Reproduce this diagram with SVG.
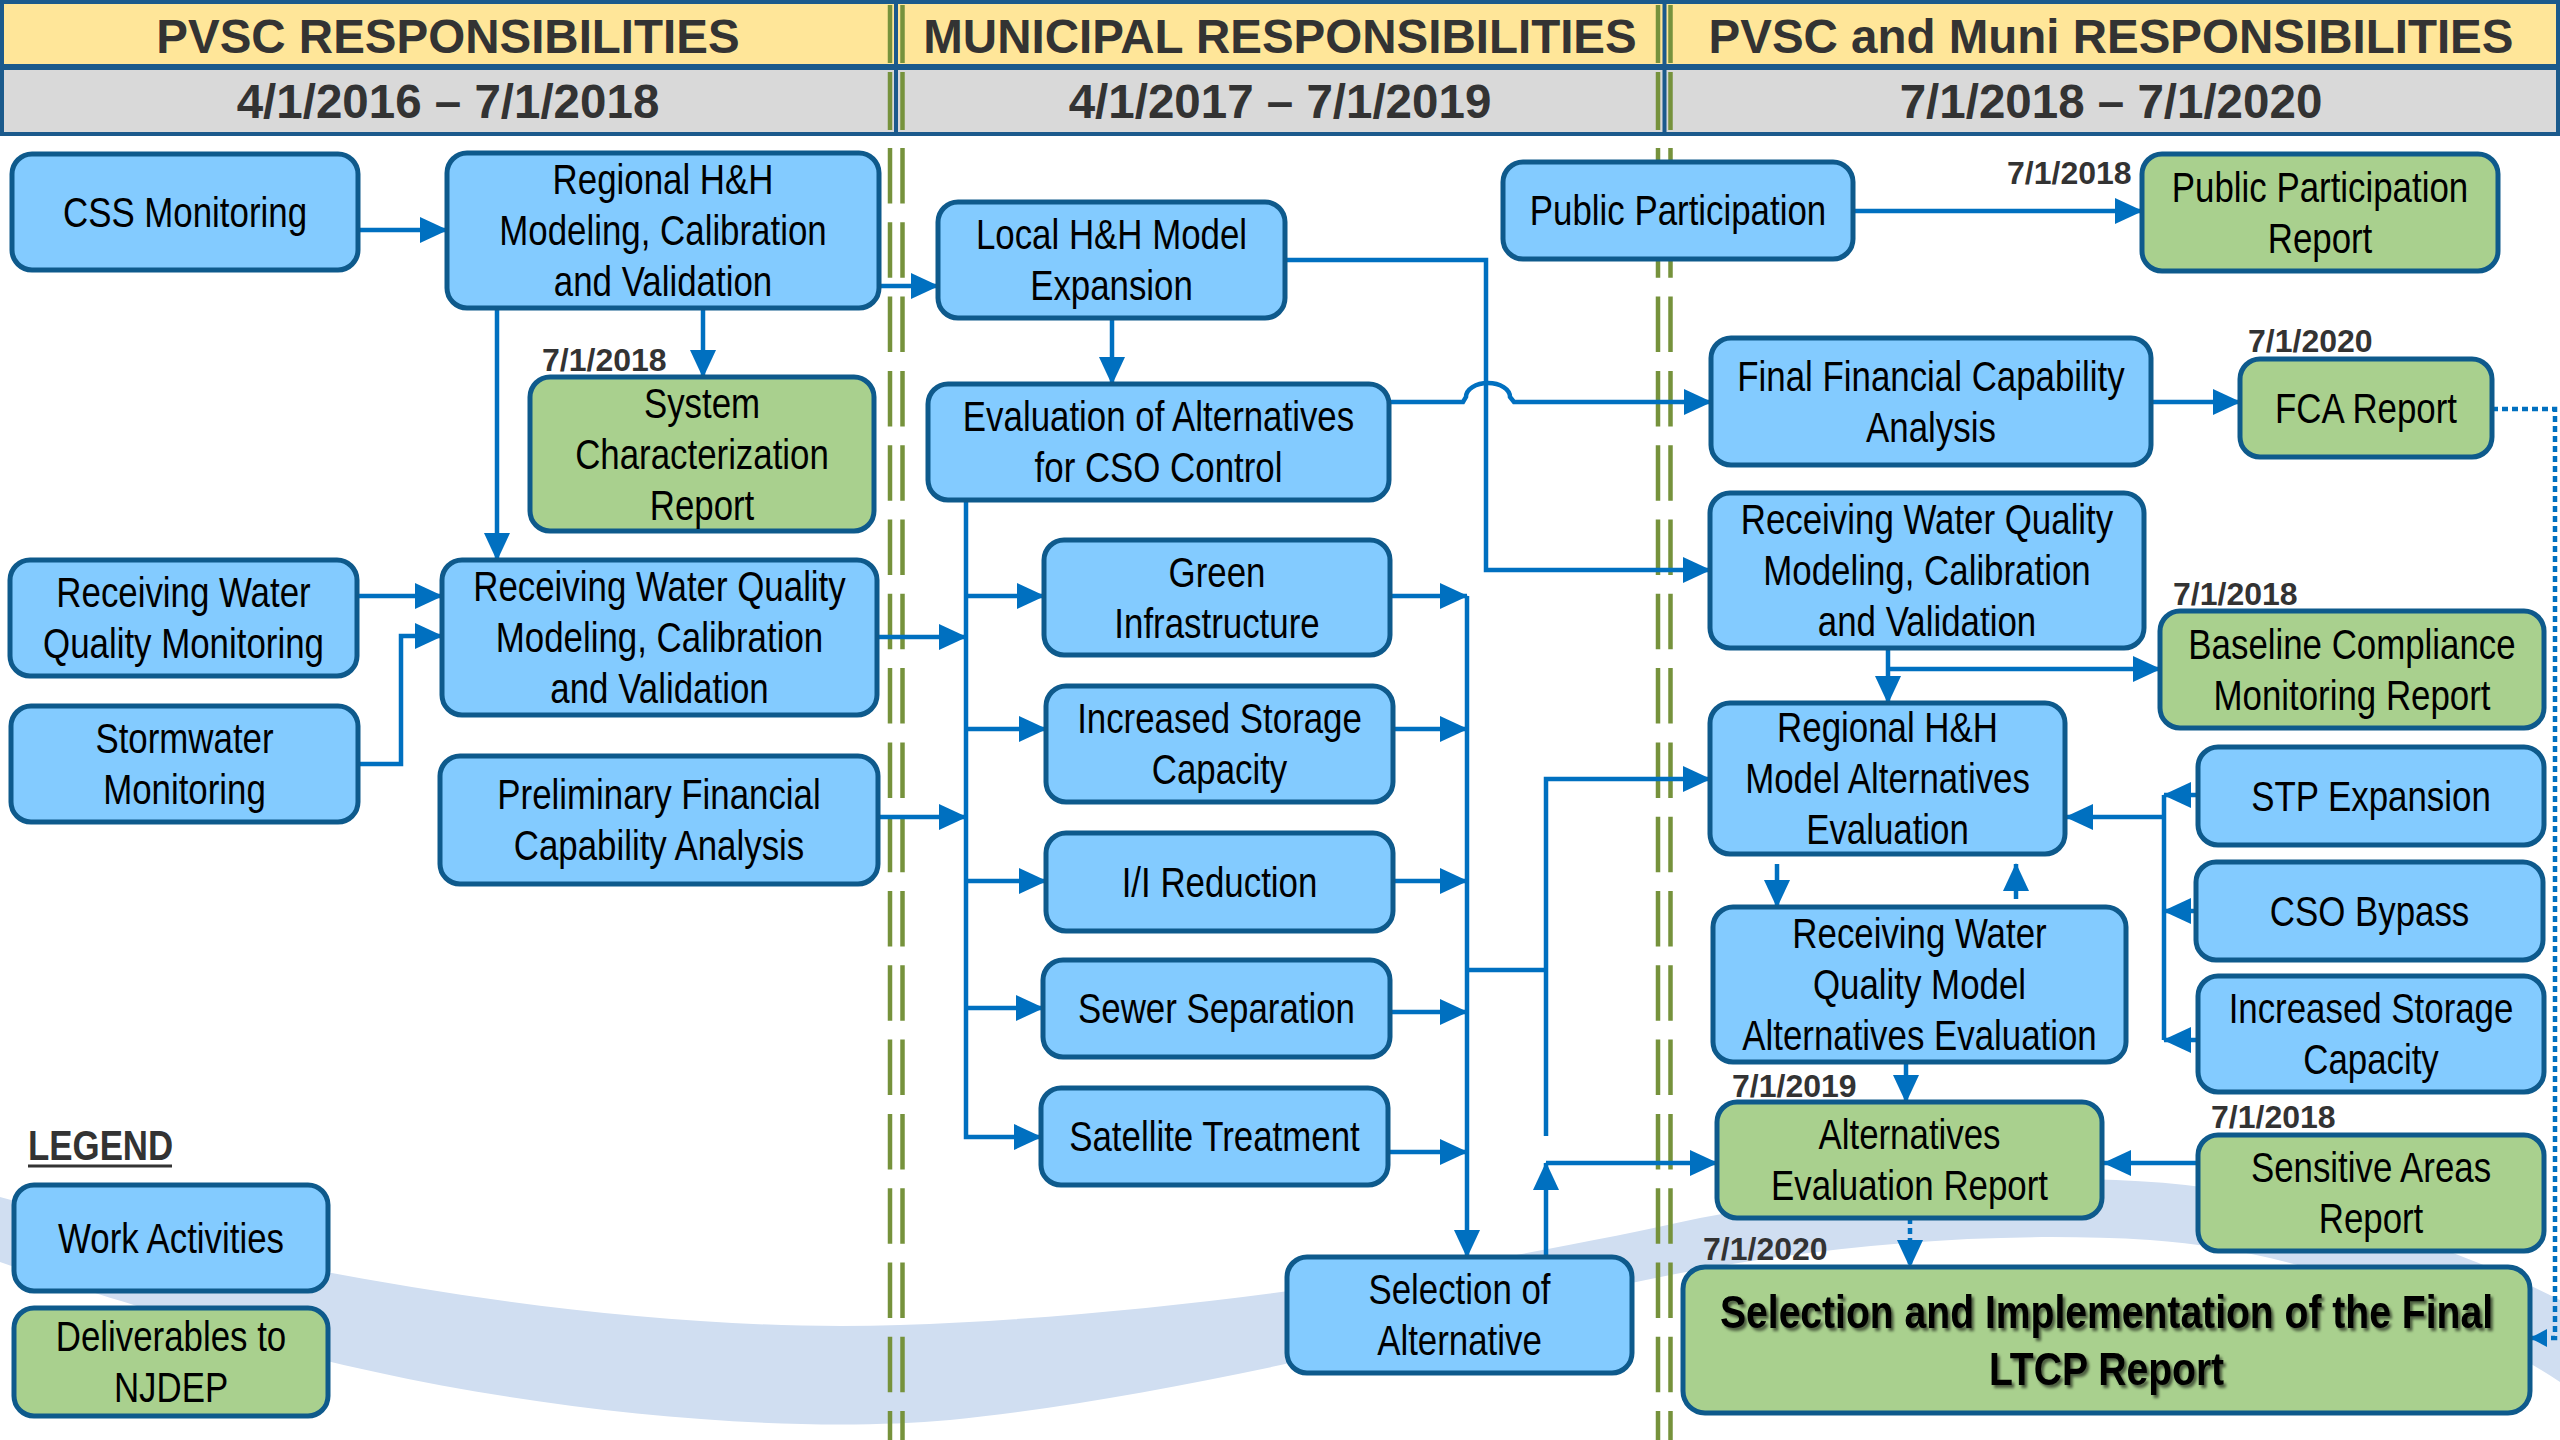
<svg xmlns="http://www.w3.org/2000/svg" width="2560" height="1440" viewBox="0 0 2560 1440">
<style>
.w{fill:#83CBFF;stroke:#0E5A8C;stroke-width:5}
.d{fill:#A9D08E;stroke:#0E5A8C;stroke-width:5}
.t{font-family:"Liberation Sans",Arial,sans-serif;font-size:42px;fill:#000;text-anchor:middle}
.tb{font-family:"Liberation Sans",Arial,sans-serif;font-size:46px;font-weight:bold;fill:#000;text-anchor:middle}
.h{font-family:"Liberation Sans",Arial,sans-serif;font-size:47.5px;font-weight:bold;fill:#333;text-anchor:middle}
.dt{font-family:"Liberation Sans",Arial,sans-serif;font-size:32px;font-weight:bold;fill:#333}
.c{fill:none;stroke:#0070C0;stroke-width:4.5}
.dot{stroke-dasharray:6 4}
.gd{stroke:#76923C;stroke-width:4.5;stroke-dasharray:55.5 18.8}
.gh{stroke:#76923C;stroke-width:4.5}
.hb{stroke:#1B5A8C;stroke-width:4}
</style>
<defs>
<marker id="ah" markerUnits="userSpaceOnUse" markerWidth="28" markerHeight="26" refX="27" refY="13" orient="auto"><path d="M0,0 L28,13 L0,26 Z" fill="#0070C0"/></marker>
<marker id="ahs" markerUnits="userSpaceOnUse" markerWidth="17" markerHeight="18" refX="16" refY="9" orient="auto"><path d="M0,0 L17,9 L0,18 Z" fill="#0070C0"/></marker>
<filter id="sh" x="-5%" y="-20%" width="110%" height="140%"><feDropShadow dx="3" dy="3" stdDeviation="1.5" flood-color="#000" flood-opacity="0.55"/></filter>
</defs>
<rect x="0" y="0" width="2560" height="1440" fill="#fff"/>
<path id="band" d="M0,1197 C250,1265 600,1335 900,1325 C1200,1315 1500,1262 1700,1218 C1900,1180 2100,1165 2250,1195 C2400,1225 2500,1270 2560,1300 L2560,1382 C2450,1310 2300,1250 2150,1240 C1950,1228 1750,1255 1600,1290 C1400,1340 1150,1400 950,1420 C750,1438 450,1400 250,1340 C150,1310 50,1280 0,1262 Z" fill="#D0DEF1"/>
<g id="header">
<rect x="2" y="2" width="2556" height="64" fill="#FFE699" class="hb"/>
<rect x="2" y="68" width="2556" height="66" fill="#D9D9D9" class="hb"/>
<line class="gh" x1="890" y1="5" x2="890" y2="63"/><line class="gh" x1="902.5" y1="5" x2="902.5" y2="63"/>
<line class="gh" x1="890" y1="72" x2="890" y2="130"/><line class="gh" x1="902.5" y1="72" x2="902.5" y2="130"/>
<line class="gh" x1="1658" y1="5" x2="1658" y2="63"/><line class="gh" x1="1670.5" y1="5" x2="1670.5" y2="63"/>
<line class="gh" x1="1658" y1="72" x2="1658" y2="130"/><line class="gh" x1="1670.5" y1="72" x2="1670.5" y2="130"/>
<line class="hb" x1="896" y1="0" x2="896" y2="136"/>
<line class="hb" x1="1664.5" y1="0" x2="1664.5" y2="136"/>
<text class="h" x="448" y="53">PVSC RESPONSIBILITIES</text>
<text class="h" x="448" y="118">4/1/2016 – 7/1/2018</text>
<text class="h" x="1280" y="53">MUNICIPAL RESPONSIBILITIES</text>
<text class="h" x="1280" y="118">4/1/2017 – 7/1/2019</text>
<text class="h" x="2111" y="53">PVSC and Muni RESPONSIBILITIES</text>
<text class="h" x="2111" y="118">7/1/2018 – 7/1/2020</text>
</g>
<g id="dividers">
<line class="gd" x1="890" y1="148" x2="890" y2="1440"/>
<line class="gd" x1="902.5" y1="148" x2="902.5" y2="1440"/>
<line class="gd" x1="1658" y1="148" x2="1658" y2="1440"/>
<line class="gd" x1="1670.5" y1="148" x2="1670.5" y2="1440"/>
</g>
<g id="connectors">
<path class="c" d="M358,230 H447" marker-end="url(#ah)"/>
<path class="c" d="M703,308 V377" marker-end="url(#ah)"/>
<path class="c" d="M497,308 V560" marker-end="url(#ah)"/>
<path class="c" d="M357,596 H442" marker-end="url(#ah)"/>
<path class="c" d="M358,764 H401 V636 H442" marker-end="url(#ah)"/>
<path class="c" d="M879,286 H938" marker-end="url(#ah)"/>
<path class="c" d="M1112,318 V384" marker-end="url(#ah)"/>
<path class="c" d="M1285,260 H1486 V570 H1710" marker-end="url(#ah)"/>
<path class="c" d="M1389,402 H1463 L1466,397 A22,14 0 0 1 1510,397 L1514,402 H1711" marker-end="url(#ah)"/>
<path class="c" d="M2151,402 H2240" marker-end="url(#ah)"/>
<path class="c" d="M1853,211 H2142" marker-end="url(#ah)"/>
<path class="c dot" d="M2492,409 H2555 V1338 H2531" marker-end="url(#ahs)"/>
<path class="c dot" d="M1910,1218 V1267" marker-end="url(#ah)"/>
<path class="c" d="M877,637 H966" marker-end="url(#ah)"/>
<path class="c" d="M879,817 H966" marker-end="url(#ah)"/>
<path class="c" d="M966,500 V1137 H1041" marker-end="url(#ah)"/>
<path class="c" d="M966,596 H1044" marker-end="url(#ah)"/>
<path class="c" d="M966,729 H1046" marker-end="url(#ah)"/>
<path class="c" d="M966,881 H1046" marker-end="url(#ah)"/>
<path class="c" d="M966,1008 H1043" marker-end="url(#ah)"/>
<path class="c" d="M1390,596 H1467" marker-end="url(#ah)"/>
<path class="c" d="M1393,729 H1467" marker-end="url(#ah)"/>
<path class="c" d="M1393,881 H1467" marker-end="url(#ah)"/>
<path class="c" d="M1390,1012 H1467" marker-end="url(#ah)"/>
<path class="c" d="M1388,1152 H1467" marker-end="url(#ah)"/>
<path class="c" d="M1467,596 V1257" marker-end="url(#ah)"/>
<path class="c" d="M1467,970 H1546"/>
<path class="c" d="M1546,1136 V779 H1710" marker-end="url(#ah)"/>
<path class="c" d="M1546,1257 V1163" marker-end="url(#ah)"/>
<path class="c" d="M1546,1163 H1717" marker-end="url(#ah)"/>
<path class="c" d="M1888,648 V703" marker-end="url(#ah)"/>
<path class="c" d="M1888,669 H2160" marker-end="url(#ah)"/>
<path class="c" d="M1777,864 V907" marker-end="url(#ah)"/>
<path class="c" d="M2016,899 V864" marker-end="url(#ah)"/>
<path class="c" d="M1906,1062 V1102" marker-end="url(#ah)"/>
<path class="c" d="M2198,795 H2164" marker-end="url(#ah)"/>
<path class="c" d="M2196,911 H2164" marker-end="url(#ah)"/>
<path class="c" d="M2198,1040 H2164" marker-end="url(#ah)"/>
<path class="c" d="M2164,795 V1040"/>
<path class="c" d="M2164,817 H2066" marker-end="url(#ah)"/>
<path class="c" d="M2198,1163 H2104" marker-end="url(#ah)"/>
</g>
<g id="css-monitoring"><rect class="w" x="12" y="154" width="346" height="116" rx="20"/><text class="t" transform="translate(185 0) scale(.83 1)"><tspan x="0" y="227">CSS Monitoring</tspan></text></g>
<g id="regional-hh-modeling"><rect class="w" x="447" y="153" width="432" height="155" rx="20"/><text class="t" transform="translate(663 0) scale(.83 1)"><tspan x="0" y="194.5">Regional H&amp;H</tspan><tspan x="0" y="245.5">Modeling, Calibration</tspan><tspan x="0" y="296.5">and Validation</tspan></text></g>
<g id="system-characterization-report"><rect class="d" x="530" y="377" width="344" height="154" rx="20"/><text class="t" transform="translate(702 0) scale(.83 1)"><tspan x="0" y="418">System</tspan><tspan x="0" y="469">Characterization</tspan><tspan x="0" y="520">Report</tspan></text><text class="dt" x="542" y="371">7/1/2018</text></g>
<g id="rwq-monitoring"><rect class="w" x="10" y="560" width="347" height="116" rx="20"/><text class="t" transform="translate(183.5 0) scale(.83 1)"><tspan x="0" y="607.5">Receiving Water</tspan><tspan x="0" y="658.5">Quality Monitoring</tspan></text></g>
<g id="stormwater-monitoring"><rect class="w" x="11" y="706" width="347" height="116" rx="20"/><text class="t" transform="translate(184.5 0) scale(.83 1)"><tspan x="0" y="753.5">Stormwater</tspan><tspan x="0" y="804.5">Monitoring</tspan></text></g>
<g id="rwq-modeling-pvsc"><rect class="w" x="442" y="560" width="435" height="155" rx="20"/><text class="t" transform="translate(659.5 0) scale(.83 1)"><tspan x="0" y="601.5">Receiving Water Quality</tspan><tspan x="0" y="652.5">Modeling, Calibration</tspan><tspan x="0" y="703.5">and Validation</tspan></text></g>
<g id="preliminary-fca"><rect class="w" x="440" y="756" width="438" height="128" rx="20"/><text class="t" transform="translate(659 0) scale(.83 1)"><tspan x="0" y="809.5">Preliminary Financial</tspan><tspan x="0" y="860.5">Capability Analysis</tspan></text></g>
<g id="local-hh-expansion"><rect class="w" x="938" y="202" width="347" height="116" rx="20"/><text class="t" transform="translate(1111.5 0) scale(.83 1)"><tspan x="0" y="249.5">Local H&amp;H Model</tspan><tspan x="0" y="300.5">Expansion</tspan></text></g>
<g id="evaluation-of-alternatives"><rect class="w" x="928" y="384" width="461" height="116" rx="20"/><text class="t" transform="translate(1158.5 0) scale(.83 1)"><tspan x="0" y="431.5">Evaluation of Alternatives</tspan><tspan x="0" y="482.5">for CSO Control</tspan></text></g>
<g id="green-infrastructure"><rect class="w" x="1044" y="540" width="346" height="115" rx="20"/><text class="t" transform="translate(1217 0) scale(.83 1)"><tspan x="0" y="587">Green</tspan><tspan x="0" y="638">Infrastructure</tspan></text></g>
<g id="increased-storage-muni"><rect class="w" x="1046" y="686" width="347" height="116" rx="20"/><text class="t" transform="translate(1219.5 0) scale(.83 1)"><tspan x="0" y="733.5">Increased Storage</tspan><tspan x="0" y="784.5">Capacity</tspan></text></g>
<g id="ii-reduction"><rect class="w" x="1046" y="833" width="347" height="98" rx="20"/><text class="t" transform="translate(1219.5 0) scale(.83 1)"><tspan x="0" y="897">I/I Reduction</tspan></text></g>
<g id="sewer-separation"><rect class="w" x="1043" y="960" width="347" height="97" rx="20"/><text class="t" transform="translate(1216.5 0) scale(.83 1)"><tspan x="0" y="1023.5">Sewer Separation</tspan></text></g>
<g id="satellite-treatment"><rect class="w" x="1041" y="1088" width="347" height="97" rx="20"/><text class="t" transform="translate(1214.5 0) scale(.83 1)"><tspan x="0" y="1151.5">Satellite Treatment</tspan></text></g>
<g id="selection-of-alternative"><rect class="w" x="1287" y="1257" width="345" height="116" rx="20"/><text class="t" transform="translate(1459.5 0) scale(.83 1)"><tspan x="0" y="1304.5">Selection of</tspan><tspan x="0" y="1355.5">Alternative</tspan></text></g>
<g id="public-participation"><rect class="w" x="1503" y="162" width="350" height="97" rx="20"/><text class="t" transform="translate(1678 0) scale(.83 1)"><tspan x="0" y="225.5">Public Participation</tspan></text></g>
<g id="public-participation-report"><rect class="d" x="2142" y="154" width="356" height="117" rx="20"/><text class="t" transform="translate(2320 0) scale(.83 1)"><tspan x="0" y="202">Public Participation</tspan><tspan x="0" y="253">Report</tspan></text><text class="dt" x="2007" y="184">7/1/2018</text></g>
<g id="final-fca"><rect class="w" x="1711" y="338" width="440" height="127" rx="20"/><text class="t" transform="translate(1931 0) scale(.83 1)"><tspan x="0" y="391">Final Financial Capability</tspan><tspan x="0" y="442">Analysis</tspan></text></g>
<g id="fca-report"><rect class="d" x="2240" y="359" width="252" height="98" rx="20"/><text class="t" transform="translate(2366 0) scale(.83 1)"><tspan x="0" y="423">FCA Report</tspan></text><text class="dt" x="2248" y="352">7/1/2020</text></g>
<g id="rwq-modeling-joint"><rect class="w" x="1710" y="493" width="434" height="155" rx="20"/><text class="t" transform="translate(1927 0) scale(.83 1)"><tspan x="0" y="534.5">Receiving Water Quality</tspan><tspan x="0" y="585.5">Modeling, Calibration</tspan><tspan x="0" y="636.5">and Validation</tspan></text></g>
<g id="baseline-compliance-report"><rect class="d" x="2160" y="611" width="384" height="117" rx="20"/><text class="t" transform="translate(2352 0) scale(.83 1)"><tspan x="0" y="659">Baseline Compliance</tspan><tspan x="0" y="710">Monitoring Report</tspan></text><text class="dt" x="2173" y="605">7/1/2018</text></g>
<g id="regional-hh-alt-eval"><rect class="w" x="1710" y="703" width="355" height="151" rx="20"/><text class="t" transform="translate(1887.5 0) scale(.83 1)"><tspan x="0" y="742.5">Regional H&amp;H</tspan><tspan x="0" y="793.5">Model Alternatives</tspan><tspan x="0" y="844.5">Evaluation</tspan></text></g>
<g id="rwq-alt-eval"><rect class="w" x="1713" y="907" width="413" height="155" rx="20"/><text class="t" transform="translate(1919.5 0) scale(.83 1)"><tspan x="0" y="948.5">Receiving Water</tspan><tspan x="0" y="999.5">Quality Model</tspan><tspan x="0" y="1050.5">Alternatives Evaluation</tspan></text></g>
<g id="stp-expansion"><rect class="w" x="2198" y="747" width="346" height="98" rx="20"/><text class="t" transform="translate(2371 0) scale(.83 1)"><tspan x="0" y="811">STP Expansion</tspan></text></g>
<g id="cso-bypass"><rect class="w" x="2196" y="862" width="347" height="98" rx="20"/><text class="t" transform="translate(2369.5 0) scale(.83 1)"><tspan x="0" y="926">CSO Bypass</tspan></text></g>
<g id="increased-storage-joint"><rect class="w" x="2198" y="976" width="346" height="116" rx="20"/><text class="t" transform="translate(2371 0) scale(.83 1)"><tspan x="0" y="1023.5">Increased Storage</tspan><tspan x="0" y="1074.5">Capacity</tspan></text></g>
<g id="alternatives-evaluation-report"><rect class="d" x="1717" y="1102" width="385" height="116" rx="20"/><text class="t" transform="translate(1909.5 0) scale(.83 1)"><tspan x="0" y="1149.5">Alternatives</tspan><tspan x="0" y="1200.5">Evaluation Report</tspan></text><text class="dt" x="1732" y="1097">7/1/2019</text></g>
<g id="sensitive-areas-report"><rect class="d" x="2198" y="1135" width="346" height="116" rx="20"/><text class="t" transform="translate(2371 0) scale(.83 1)"><tspan x="0" y="1182.5">Sensitive Areas</tspan><tspan x="0" y="1233.5">Report</tspan></text><text class="dt" x="2211" y="1128">7/1/2018</text></g>
<g id="final-ltcp-report"><rect class="d" x="1683" y="1267" width="847" height="146" rx="22"/><text class="tb" filter="url(#sh)" transform="translate(2106.5 0) scale(.85 1)"><tspan x="0" y="1328">Selection and Implementation of the Final</tspan><tspan x="0" y="1385">LTCP Report</tspan></text><text class="dt" x="1703" y="1260">7/1/2020</text></g>
<g id="legend">
<text class="tb" style="fill:#333;font-size:42px;text-anchor:start" transform="translate(28 0) scale(.83 1)" x="0" y="1160">LEGEND</text>
<line x1="28" y1="1166" x2="172" y2="1166" stroke="#333" stroke-width="3"/>
<g id="legend-work"><rect class="w" x="14" y="1185" width="314" height="106" rx="20"/><text class="t" transform="translate(171 0) scale(.83 1)"><tspan x="0" y="1253">Work Activities</tspan></text></g>
<g id="legend-deliverables"><rect class="d" x="14" y="1308" width="314" height="108" rx="20"/><text class="t" transform="translate(171 0) scale(.83 1)"><tspan x="0" y="1351.5">Deliverables to</tspan><tspan x="0" y="1402.5">NJDEP</tspan></text></g>
</g>
</svg>
